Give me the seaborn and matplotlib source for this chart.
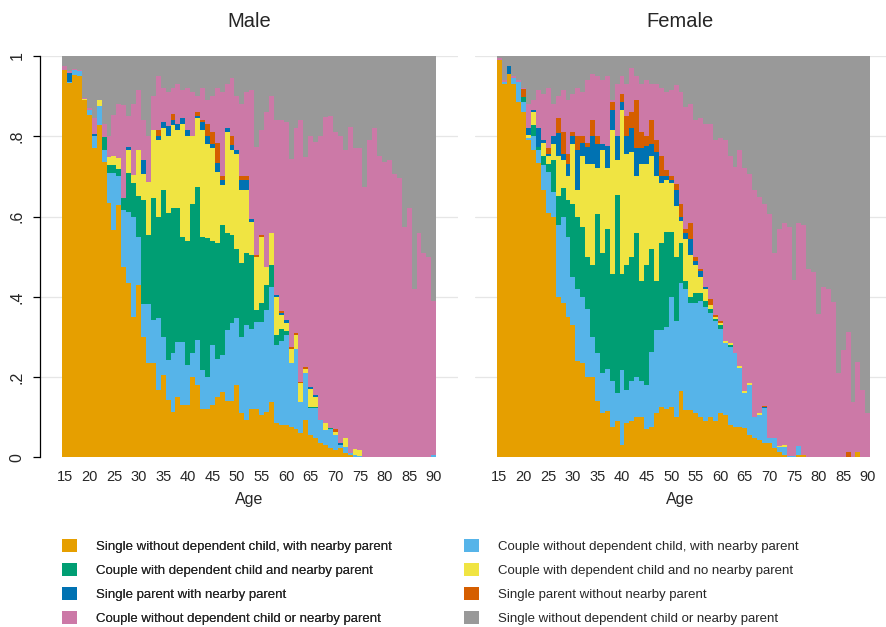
import numpy as np
import pandas as pd
import matplotlib
matplotlib.use("Agg")
import matplotlib.pyplot as plt
from matplotlib.patches import Patch
import seaborn as sns

# ---------------- data (cumulative upper edge of each layer, ages 15..90) ----------------
ages = list(range(15, 91))

categories = [
    "Single without dependent child, with nearby parent",
    "Couple without dependent child, with nearby parent",
    "Couple with dependent child and nearby parent",
    "Couple with dependent child and no nearby parent",
    "Single parent with nearby parent",
    "Single parent without nearby parent",
    "Couple without dependent child or nearby parent",
    "Single without dependent child or nearby parent",
]
colors = ["#E69F00", "#56B4E9", "#009E73", "#F0E442",
          "#0072B2", "#D55E00", "#CC79A7", "#999999"]

Z10 = [0] * 10

male_top_single_np = [.965, .933, .953, .950, .890, .853, .770, .828, .737, .633,
                      .566, .629, .475, .434, .350, .430, .300, .234, .234, .168,
                      .205, .143, .114, .151, .130, .130, .200, .180, .120, .120,
                      .130, .150, .163, .140, .140, .180, .110, .093, .120, .120,
                      .105, .114, .139, .085, .080, .080, .075, .070, .060, .093,
                      .055, .048, .035, .030, .022, .018, .022, .010, .006, 0] + Z10 + [0, 0, 0, 0, 0, 0]
male_top_couple_np = [.965, .935, .965, .962, .890, .866, .800, .875, .766, .708,
                      .708, .700, .616, .612, .600, .550, .383, .383, .342, .346,
                      .300, .242, .260, .288, .288, .230, .260, .292, .217, .200,
                      .280, .245, .255, .317, .334, .346, .300, .330, .320, .338,
                      .338, .367, .425, .280, .290, .305, .234, .270, .139, .210,
                      .122, .122, .093, .068, .070, .055, .030, .025, .010, .006,
                      .003, 0, 0, 0, 0, 0, 0, 0, 0, 0, 0, 0, 0, 0, 0, .005]
male_top_couple_child_np = [.965, .935, .965, .962, .891, .866, .800, .875, .797, .728,
                            .728, .718, .645, .708, .683, .650, .640, .554, .645, .600,
                            .666, .610, .620, .620, .550, .540, .632, .674, .550, .546,
                            .540, .533, .578, .560, .555, .520, .483, .510, .505, .367,
                            .384, .430, .480, .305, .320, .315, .234, .270, .139, .210,
                            .125, .125, .093, .068, .074, .055, .030, .025, .010, .006,
                            .003, 0, 0, 0, 0, 0, 0, 0, 0, 0, 0, 0, 0, 0, 0, .005]
male_top_couple_child_nonp = [.965, .935, .965, .962, .893, .866, .800, .890, .797, .748,
                              .750, .745, .645, .766, .703, .766, .707, .686, .815, .790,
                              .820, .800, .827, .815, .830, .800, .800, .845, .815, .780,
                              .770, .712, .678, .810, .766, .757, .666, .666, .587, .500,
                              .550, .475, .558, .400, .355, .335, .270, .305, .184, .220,
                              .170, .150, .093, .085, .074, .063, .030, .047, .010, .020,
                              .018, 0, 0, 0, 0, 0, 0, 0, 0, 0, 0, 0, 0, 0, 0, .005]
male_top_lone_np = [.965, .957, .965, .962, .893, .866, .805, .890, .797, .748,
                    .750, .745, .645, .774, .703, .766, .740, .686, .815, .800,
                    .835, .825, .840, .830, .845, .815, .800, .850, .835, .800,
                    .780, .733, .690, .820, .778, .766, .690, .690, .595, .500,
                    .550, .475, .558, .405, .360, .343, .270, .305, .184, .220,
                    .175, .155, .093, .085, .074, .063, .035, .047, .010, .020,
                    .018, 0, 0, 0, 0, 0, 0, 0, 0, 0, 0, 0, 0, 0, 0, .005]
male_top_lone_nonp = [.965, .957, .965, .962, .893, .866, .805, .890, .797, .748,
                      .750, .745, .645, .774, .703, .766, .740, .686, .815, .815,
                      .835, .825, .855, .830, .845, .815, .800, .860, .840, .830,
                      .810, .782, .700, .820, .800, .766, .700, .700, .595, .504,
                      .554, .475, .558, .405, .365, .343, .275, .310, .188, .225,
                      .175, .155, .093, .085, .074, .070, .035, .047, .010, .020,
                      .018, 0, 0, 0, 0, 0, 0, 0, 0, 0, 0, 0, 0, 0, 0, .005]
male_top_couple_nonp = [.975, .962, .968, .966, .895, .870, .845, .890, .830, .800,
                        .853, .880, .878, .850, .880, .915, .840, .800, .900, .950,
                        .920, .910, .920, .930, .915, .920, .910, .900, .920, .890,
                        .900, .920, .910, .930, .944, .900, .880, .910, .915, .773,
                        .815, .860, .900, .840, .840, .835, .744, .820, .840, .748,
                        .800, .785, .800, .848, .850, .810, .800, .765, .823, .770,
                        .770, .674, .790, .820, .750, .735, .740, .707, .695, .574,
                        .620, .420, .558, .508, .500, .390]

female_top_single_np = [.990, .930, .955, .930, .885, .860, .790, .766, .733, .666,
                        .610, .600, .400, .385, .350, .330, .240, .235, .200, .200,
                        .140, .110, .115, .075, .090, .030, .085, .090, .100, .100,
                        .070, .076, .110, .125, .120, .126, .100, .164, .118, .118,
                        .110, .100, .090, .100, .090, .110, .105, .080, .075, .075,
                        .072, .056, .048, .043, .035, .035, .022, .013, .006, 0,
                        0, .006, .006, 0, 0, 0, 0, 0, 0, 0, 0, 0, 0, .012, 0, 0]
female_top_couple_np = [.990, .935, .955, .945, .935, .886, .795, .800, .765, .728,
                        .710, .660, .580, .600, .550, .450, .420, .400, .370, .300,
                        .260, .210, .220, .190, .160, .218, .168, .190, .200, .190,
                        .180, .263, .317, .317, .325, .400, .340, .434, .420, .384,
                        .384, .390, .375, .360, .340, .320, .285, .275, .260, .222,
                        .160, .180, .100, .105, .122, .047, .047, .025, .025, .002,
                        .004, .027, .006, 0, 0, 0, 0, 0, 0, 0, 0, 0, 0, .012, 0, 0]
female_top_couple_child_np = [.990, .935, .955, .945, .935, .898, .795, .828, .774, .750,
                              .730, .740, .650, .670, .640, .630, .600, .574, .500, .480,
                              .607, .508, .570, .458, .653, .458, .480, .500, .558, .440,
                              .480, .520, .440, .533, .562, .562, .500, .533, .440, .400,
                              .410, .410, .390, .370, .345, .330, .285, .280, .260, .222,
                              .160, .180, .100, .105, .122, .047, .047, .025, .025, .002,
                              .004, .027, .006, 0, 0, 0, 0, 0, 0, 0, 0, 0, 0, .012, 0, 0]
female_top_couple_child_nonp = [.990, .935, .955, .945, .935, .898, .803, .861, .774, .782,
                                .750, .780, .750, .740, .700, .780, .666, .750, .732, .730,
                                .720, .766, .720, .815, .740, .865, .757, .760, .700, .730,
                                .730, .750, .700, .683, .690, .683, .625, .590, .545, .505,
                                .480, .450, .420, .380, .350, .335, .290, .285, .260, .227,
                                .165, .185, .100, .110, .122, .047, .047, .027, .030, .002,
                                .004, .027, .006, 0, 0, 0, 0, 0, 0, 0, 0, 0, 0, .012, 0, 0]
female_top_lone_np = [.990, .935, .975, .945, .935, .898, .820, .865, .820, .790,
                      .757, .800, .807, .757, .730, .800, .766, .782, .774, .800,
                      .780, .780, .775, .865, .800, .885, .800, .820, .770, .770,
                      .775, .780, .760, .700, .700, .690, .665, .600, .560, .545,
                      .490, .465, .425, .380, .350, .335, .290, .285, .260, .227,
                      .165, .185, .100, .110, .125, .047, .047, .027, .030, .002,
                      .004, .027, .006, 0, 0, 0, 0, 0, 0, 0, 0, 0, 0, .012, 0, 0]
female_top_lone_nonp = [.990, .935, .975, .945, .935, .917, .820, .865, .820, .790,
                        .770, .800, .845, .810, .755, .810, .800, .800, .782, .840,
                        .800, .780, .775, .886, .800, .905, .850, .860, .890, .810,
                        .800, .840, .790, .750, .715, .700, .680, .630, .570, .585,
                        .500, .470, .425, .395, .355, .340, .290, .285, .260, .227,
                        .165, .185, .100, .110, .128, .047, .047, .027, .030, .002,
                        .004, .027, .006, 0, 0, 0, 0, 0, 0, 0, 0, .014, 0, .012, 0, 0]
female_top_couple_nonp = [.995, .940, .975, .950, .940, .920, .880, .890, .915, .905,
                          .920, .880, .900, .915, .890, .905, .920, .910, .940, .955,
                          .950, .940, .950, .890, .930, .950, .930, .970, .950, .930,
                          .940, .930, .930, .920, .910, .915, .927, .910, .873, .880,
                          .840, .845, .830, .830, .790, .795, .790, .750, .724, .765,
                          .720, .707, .665, .649, .632, .607, .508, .570, .583, .574,
                          .441, .583, .578, .470, .462, .358, .425, .420, .388, .209,
                          .267, .313, .139, .238, .168, .110]

male_tops = [male_top_single_np, male_top_couple_np, male_top_couple_child_np,
             male_top_couple_child_nonp, male_top_lone_np, male_top_lone_nonp,
             male_top_couple_nonp]
female_tops = [female_top_single_np, female_top_couple_np, female_top_couple_child_np,
               female_top_couple_child_nonp, female_top_lone_np, female_top_lone_nonp,
               female_top_couple_nonp]

x_ticks = list(range(15, 91, 5))
y_ticks = [0, .2, .4, .6, .8, 1]
y_ticklabels = ["0", ".2", ".4", ".6", ".8", "1"]


def long_frame(tops):
    arr = np.array(tops, dtype=float)            # 7 x 76 cumulative edges
    arr = np.vstack([np.zeros(len(ages)), arr, np.ones(len(ages))])
    arr = np.maximum.accumulate(arr, axis=0)
    shares = np.diff(arr, axis=0)                # 8 x 76
    rows = []
    for ci, cat in enumerate(categories):
        for ai, age in enumerate(ages):
            rows.append((age, cat, shares[ci, ai]))
    return pd.DataFrame(rows, columns=["age", "cat", "share"])


sns.set_style("white")
plt.rcParams["font.family"] = ["Liberation Sans", "DejaVu Sans"]

W, H = 886, 627
fig = plt.figure(figsize=(W / 100, H / 100), dpi=100)
ax_l = fig.add_axes([40 / W, 169.7 / H, 418 / W, 401.3 / H])
ax_r = fig.add_axes([474.7 / W, 169.7 / H, 411.3 / W, 401.3 / H])

palette = dict(zip(categories, colors))
hue_order = categories[::-1]   # seaborn stacks the last level at the bottom

for ax, tops, title, xlim in [(ax_l, male_tops, "Male", (9.97, 94.93)),
                              (ax_r, female_tops, "Female", (10.02, 93.72))]:
    df = long_frame(tops)
    for yv in [.2, .4, .6, .8, 1.0]:
        ax.axhline(yv, color="#e6e6e6", lw=0.9, zorder=0)
    sns.histplot(data=df, x="age", weights="share", hue="cat", hue_order=hue_order,
                 palette=palette, multiple="stack", discrete=True, shrink=1,
                 linewidth=0, alpha=1, legend=False, ax=ax, zorder=2)
    ax.set_xlim(*xlim)
    ax.set_ylim(0, 1)
    ax.set_xticks(x_ticks)
    ax.set_xticklabels([str(t) for t in x_ticks], fontsize=10.5)
    ax.tick_params(axis="x", length=0, pad=9)
    ax.set_xlabel("Age", fontsize=11.5, labelpad=6)
    ax.set_ylabel("")
    ax.set_title(title, fontsize=14.5, pad=21)
    for s in ["top", "right", "bottom"]:
        ax.spines[s].set_visible(False)
    ax.grid(False)

ax_l.set_yticks(y_ticks)
ax_l.set_yticklabels(y_ticklabels, rotation=90, va="center", fontsize=11.5)
ax_l.tick_params(axis="y", length=5, width=0.9, color="black", pad=6, left=True)
ax_l.spines["left"].set_color("black")
ax_l.spines["left"].set_linewidth(0.9)

ax_r.set_yticks([])
ax_r.spines["left"].set_visible(False)

handles = [Patch(facecolor=c, edgecolor="none") for c in colors]
col1 = [0, 2, 4, 6]
col2 = [1, 3, 5, 7]
leg_kw = dict(frameon=False, fontsize=9.5, handlelength=1.15, handleheight=1.1,
              handletextpad=1.45, labelspacing=0.78, borderpad=0, borderaxespad=0,
              loc="upper left")
leg1 = fig.legend([handles[i] for i in col1], [categories[i] for i in col1],
                  bbox_to_anchor=(62 / W, 1 - 539 / H), **leg_kw)
fig.add_artist(leg1)
leg2 = fig.legend([handles[i] for i in col2], [categories[i] for i in col2],
                  bbox_to_anchor=(464 / W, 1 - 539 / H), **leg_kw)

fig.savefig("out.png", dpi=100, facecolor="white")
